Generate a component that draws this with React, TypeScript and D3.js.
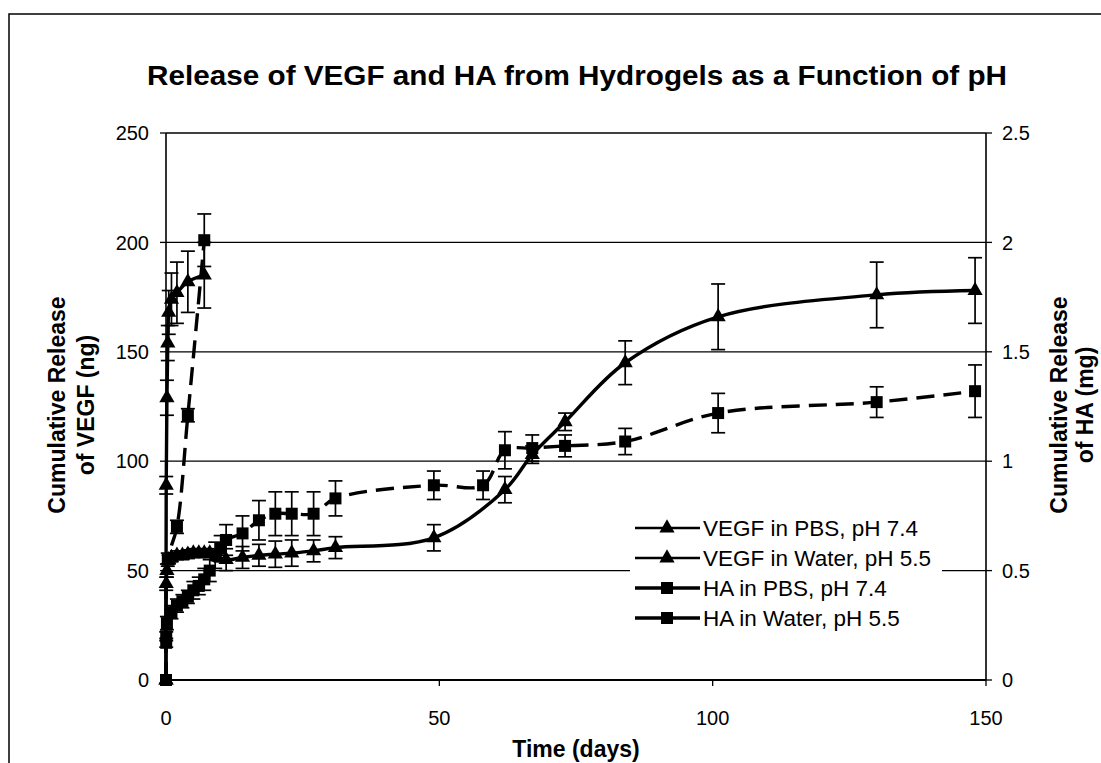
import React from 'react';
import * as d3 from 'd3';

// ---------- data ----------
const vegfPbsDays = [0, 0.04, 0.17, 0.5, 1, 2, 3, 4, 5, 6, 7, 8, 11, 14, 17, 20, 23, 27, 31, 49, 62, 67, 73, 84, 101, 130, 148];
const vegfPbsVals = [0, 44, 50, 55, 56, 57, 57, 57.5, 58, 58, 58, 58, 55, 56, 57, 57.5, 58, 59, 60.5, 65, 87, 103, 118, 145, 166, 176, 178];
const vegfPbsErr = [0, 3, 3, 2, 2, 2, 2, 2, 2, 2, 2, 2, 5, 5, 5, 6, 6, 5, 5, 6, 6, 4, 4, 10, 15, 15, 15];

const vegfWaterDays = [0, 0.04, 0.17, 0.33, 0.5, 1, 2, 4, 7];
const vegfWaterVals = [0, 89, 129, 154, 168, 174, 177, 182, 185];
const vegfWaterErr = [0, 4, 8, 8, 10, 12, 14, 14, 15];

const haPbsDays = [0, 0.04, 0.17, 1, 2, 3, 4, 5, 6, 7, 8, 9, 10, 11, 14, 17, 20, 23, 27, 31, 49, 58, 62, 67, 73, 84, 101, 130, 148];
const haPbsVals = [0, 0.17, 0.26, 0.31, 0.34, 0.36, 0.38, 0.41, 0.43, 0.46, 0.5, 0.57, 0.6, 0.64, 0.67, 0.73, 0.76, 0.76, 0.76, 0.83, 0.89, 0.89, 1.05, 1.06, 1.07, 1.09, 1.22, 1.27, 1.32];
const haPbsErr = [0, 0.02, 0.03, 0.03, 0.03, 0.03, 0.03, 0.04, 0.04, 0.05, 0.05, 0.06, 0.06, 0.07, 0.08, 0.09, 0.1, 0.1, 0.1, 0.08, 0.065, 0.065, 0.085, 0.06, 0.05, 0.06, 0.09, 0.07, 0.12];

const haWaterDays = [0, 0.04, 0.33, 2, 4, 7];
const haWaterVals = [0, 0.2, 0.55, 0.7, 1.21, 2.01];
const haWaterErr = [0, 0.02, 0.03, 0.03, 0.03, 0.12];

const xTicks = [0, 50, 100, 150];
const yLeftTicks = [0, 50, 100, 150, 200, 250];
const yRightTicks = [0, 0.5, 1, 1.5, 2, 2.5];
const gridValues = [50, 100, 150, 200, 250];

const legendLabels = ['VEGF in PBS, pH 7.4', 'VEGF in Water, pH 5.5', 'HA in PBS, pH 7.4', 'HA in Water, pH 5.5'];

const FONT = '"Liberation Sans", Arial, sans-serif';

export default function App() {
  const W = 1101, H = 763;
  const left = 166, right = 986, top = 133, bottom = 680;
  const x = d3.scaleLinear().domain([0, 150]).range([left, right]);
  const yL = d3.scaleLinear().domain([0, 250]).range([bottom, top]);
  const yR = d3.scaleLinear().domain([0, 2.5]).range([bottom, top]);

  const series = [
    { key: 'vp', days: vegfPbsDays, vals: vegfPbsVals, errs: vegfPbsErr, y: yL, dash: null, marker: 'tri' },
    { key: 'vw', days: vegfWaterDays, vals: vegfWaterVals, errs: vegfWaterErr, y: yL, dash: null, marker: 'tri' },
    { key: 'hp', days: haPbsDays, vals: haPbsVals, errs: haPbsErr, y: yR, dash: '18,9', marker: 'sq' },
    { key: 'hw', days: haWaterDays, vals: haWaterVals, errs: haWaterErr, y: yR, dash: '18,9', marker: 'sq' },
  ];

  const tri = d3.symbol().type(d3.symbolTriangle).size(100)() as string;
  const sq = d3.symbol().type(d3.symbolSquare).size(144)() as string;

  const capW = 7;

  const legendRows = [528, 558, 588, 618];
  const legendMarkers = ['tri', 'tri', 'sq', 'sq'];
  const midY = 405;

  return (
    <svg width={W} height={H} style={{ position: 'absolute', left: 0, top: 0, background: '#fff' }} fontFamily={FONT}>
      <rect x={0} y={0} width={W} height={H} fill="#fff" />
      {/* outer frame */}
      <rect x={9} y={14} width={1200} height={900} fill="none" stroke="#000" strokeWidth={1.5} />

      {/* title */}
      <text x={577} y={85} textAnchor="middle" fontSize={28} fontWeight="bold" textLength={860} lengthAdjust="spacingAndGlyphs">
        Release of VEGF and HA from Hydrogels as a Function of pH
      </text>

      {/* gridlines */}
      {gridValues.map((v) => (
        <line key={'g' + v} x1={left} x2={right} y1={yL(v)} y2={yL(v)} stroke="#000" strokeWidth={1.3} />
      ))}

      {/* series lines */}
      {series.map((s) => {
        const line = d3
          .line<number>()
          .x((_, i) => x(s.days[i]))
          .y((v) => s.y(v))
          .curve(d3.curveCatmullRom.alpha(0.5));
        return (
          <path key={'l' + s.key} d={line(s.vals) as string} fill="none" stroke="#000" strokeWidth={3.4}
            strokeDasharray={s.dash || undefined} />
        );
      })}

      {/* error bars */}
      {series.map((s) =>
        s.vals.map((v, i) => {
          const e = s.errs[i];
          if (!e) return null;
          const cx = x(s.days[i]);
          const y1 = s.y(v + e), y2 = s.y(v - e);
          return (
            <g key={'e' + s.key + i} stroke="#000" strokeWidth={1.7}>
              <line x1={cx} x2={cx} y1={y1} y2={y2} />
              <line x1={cx - capW} x2={cx + capW} y1={y1} y2={y1} />
              <line x1={cx - capW} x2={cx + capW} y1={y2} y2={y2} />
            </g>
          );
        })
      )}

      {/* markers */}
      {series.map((s) =>
        s.vals.map((v, i) => (
          <path key={'m' + s.key + i} d={s.marker === 'tri' ? tri : sq}
            transform={`translate(${x(s.days[i])},${s.y(v)})`} fill="#000" />
        ))
      )}

      {/* axes frame */}
      <line x1={left} x2={left} y1={top} y2={bottom} stroke="#000" strokeWidth={1.6} />
      <line x1={right} x2={right} y1={top} y2={bottom} stroke="#000" strokeWidth={1.6} />
      <line x1={left} x2={right} y1={bottom} y2={bottom} stroke="#000" strokeWidth={2.2} />

      {/* left ticks */}
      {yLeftTicks.map((v) => (
        <g key={'yl' + v}>
          <line x1={left - 6} x2={left} y1={yL(v)} y2={yL(v)} stroke="#000" strokeWidth={1.3} />
          <text x={149} y={yL(v)} dy="0.36em" textAnchor="end" fontSize={20}>{v}</text>
        </g>
      ))}
      {/* right ticks */}
      {yRightTicks.map((v) => (
        <g key={'yr' + v}>
          <line x1={right} x2={right + 6} y1={yR(v)} y2={yR(v)} stroke="#000" strokeWidth={1.3} />
          <text x={1002} y={yR(v)} dy="0.36em" textAnchor="start" fontSize={20}>{String(v)}</text>
        </g>
      ))}
      {/* x ticks */}
      {xTicks.map((v) => (
        <g key={'x' + v}>
          <line x1={x(v)} x2={x(v)} y1={bottom} y2={bottom + 6} stroke="#000" strokeWidth={1.3} />
          <text x={x(v)} y={bottom + 45} textAnchor="middle" fontSize={20}>{v}</text>
        </g>
      ))}

      {/* axis titles */}
      <text x={576} y={757} textAnchor="middle" fontSize={23} fontWeight="bold">Time (days)</text>
      <g transform={`translate(0,${midY})`}>
        <text transform="translate(65,0) rotate(-90)" textAnchor="middle" fontSize={23} fontWeight="bold">Cumulative Release</text>
        <text transform="translate(94,0) rotate(-90)" textAnchor="middle" fontSize={23} fontWeight="bold">of VEGF (ng)</text>
        <text transform="translate(1067,0) rotate(-90)" textAnchor="middle" fontSize={23} fontWeight="bold">Cumulative Release</text>
        <text transform="translate(1093,0) rotate(-90)" textAnchor="middle" fontSize={23} fontWeight="bold">of HA (mg)</text>
      </g>

      {/* legend */}
      <rect x={630} y={511} width={312} height={125} fill="#fff" />
      {legendLabels.map((lab, i) => (
        <g key={'lg' + i}>
          <line x1={635} x2={700} y1={legendRows[i]} y2={legendRows[i]} stroke="#000" strokeWidth={i < 2 ? 2.4 : 3.4} />
          <path d={legendMarkers[i] === 'tri' ? tri : sq} transform={`translate(667,${legendRows[i]})`} fill="#000" />
          <text x={703} y={legendRows[i]} dy="0.36em" fontSize={22.5}>{lab}</text>
        </g>
      ))}
    </svg>
  );
}
